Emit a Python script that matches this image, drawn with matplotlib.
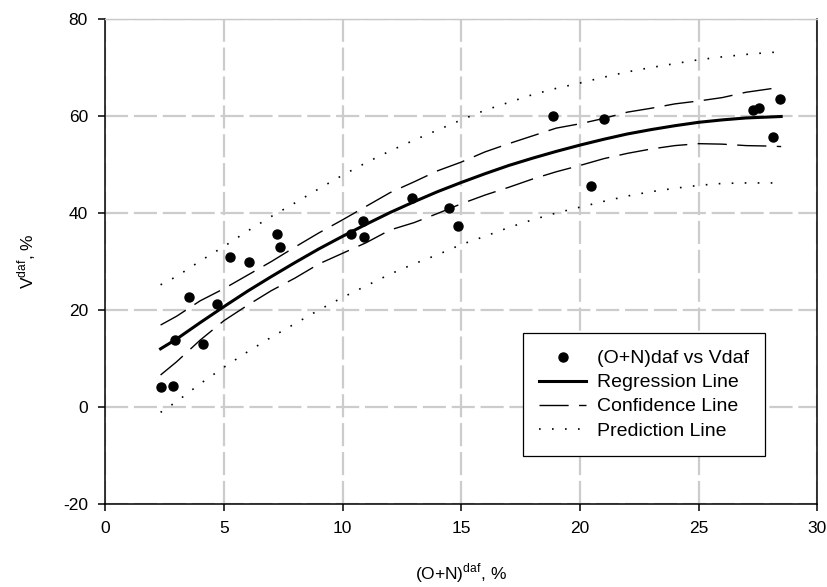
import numpy as np
import matplotlib
matplotlib.use('Agg')
import matplotlib.pyplot as plt

plt.rcParams['font.family'] = ['Liberation Sans', 'DejaVu Sans']
plt.rcParams['axes.unicode_minus'] = False

# measured points: (O+N)daf vs Vdaf
on_daf = [2.33, 2.84, 2.94, 3.54, 4.13, 4.72, 5.25, 6.07, 7.22, 7.36, 10.35, 10.85,
          10.92, 12.94, 14.5, 14.85, 18.85, 20.45, 21.02, 27.3, 27.55, 28.13, 28.43]
v_daf = [4.2, 4.3, 13.8, 22.6, 13.0, 21.2, 30.9, 29.9, 35.7, 32.9, 35.6, 38.4,
         35.1, 43.0, 41.0, 37.3, 59.9, 45.6, 59.4, 61.2, 61.6, 55.7, 63.6]

# curves
curve_x = [2.33, 3, 4, 5, 6, 7, 8, 9, 10, 11, 12, 13, 14, 15, 16, 17, 18, 19, 20,
           21, 22, 23, 24, 25, 26, 27, 28, 28.48]
reg_y = [12.0, 14.0, 17.4, 20.7, 23.9, 26.9, 29.8, 32.6, 35.2, 37.7, 40.1, 42.3, 44.4,
         46.3, 48.1, 49.8, 51.3, 52.7, 54.0, 55.2, 56.3, 57.2, 58.0, 58.7, 59.2, 59.6,
         59.8, 59.9]
conf_up = [16.9, 18.7, 21.9, 24.4, 27.2, 30.0, 33.0, 35.9, 38.6, 41.4, 44.2, 46.4, 48.7,
           50.5, 52.6, 54.3, 55.9, 57.5, 58.4, 59.5, 60.8, 61.6, 62.5, 63.1, 63.8, 64.9,
           65.6, 66.0]
conf_lo = [6.6, 9.3, 13.8, 17.8, 21.0, 24.0, 26.6, 29.5, 31.7, 33.9, 36.5, 38.0, 39.9,
           41.9, 43.7, 45.3, 47.0, 48.5, 49.8, 51.2, 52.3, 53.2, 53.9, 54.3, 54.2, 53.9,
           53.8, 53.7]
pred_up = [25.2, 26.9, 30.1, 33.1, 36.3, 39.3, 42.1, 45.0, 47.8, 50.4, 52.8, 55.0, 57.1,
           59.2, 61.2, 62.8, 64.4, 65.7, 66.8, 68.0, 69.1, 70.0, 70.8, 71.6, 72.2, 72.7,
           73.1, 73.2]
pred_lo = [-1.1, 1.1, 4.8, 8.2, 11.4, 14.4, 17.2, 20.0, 22.6, 25.0, 27.4, 29.5, 31.4,
           33.5, 35.2, 37.0, 38.6, 40.0, 41.2, 42.4, 43.5, 44.4, 45.1, 45.7, 46.1, 46.2,
           46.2, 46.2]

fig = plt.figure(figsize=(8.27, 5.87), dpi=100)
ax = fig.add_axes([0.1273, 0.1414, 0.8609, 0.8262])

ax.grid(True, color='#cccccc', linestyle=(0, (10.4, 2.6)), linewidth=1.6, zorder=0)
ax.set_axisbelow(True)

ax.plot(on_daf, v_daf, 'o', color='black', markersize=6.5, label='(O+N)daf vs Vdaf', zorder=5)
ax.plot(curve_x, reg_y, '-', color='black', linewidth=2.2, label='Regression Line', zorder=4)
ax.plot(curve_x, conf_up, color='black', linewidth=1.0, linestyle=(0, (21, 7.5)),
        label='Confidence Line', zorder=3)
ax.plot(curve_x, conf_lo, color='black', linewidth=1.0, linestyle=(0, (21, 7.5)), zorder=3)
ax.plot(curve_x, pred_up, color='black', linewidth=1.2, linestyle=(0, (1, 6.8)),
        label='Prediction Line', zorder=3)
ax.plot(curve_x, pred_lo, color='black', linewidth=1.2, linestyle=(0, (1, 6.8)), zorder=3)

ax.set_xlim(0, 30)
ax.set_ylim(-20, 80)
ax.set_xticks([0, 5, 10, 15, 20, 25, 30])
ax.set_yticks([-20, 0, 20, 40, 60, 80])
ax.tick_params(direction='out', length=5, width=1.1, labelsize=12.5, pad=7.5,
               top=False, right=False)

for s in ['left', 'bottom', 'right']:
    ax.spines[s].set_color('black')
    ax.spines[s].set_linewidth(1.1)
ax.spines['top'].set_color('#c8c8c8')
ax.spines['top'].set_linewidth(1.0)

ax.set_xlabel(r'(O+N)$^{\mathregular{daf}}$, %', fontsize=12.5)
ax.set_ylabel(r'V$^{\mathregular{daf}}$, %', fontsize=12.5)
ax.xaxis.set_label_coords(0.5, -0.118)
ax.yaxis.set_label_coords(-0.0945, 0.5)

leg = ax.legend(loc='upper left', bbox_to_anchor=(522.7 / 827, 1 - 333.3 / 587),
                bbox_transform=fig.transFigure, fontsize=14, frameon=True,
                fancybox=False, shadow=False, framealpha=1, edgecolor='black',
                borderpad=0.85, labelspacing=0.33, handlelength=2.4, handletextpad=0.55,
                borderaxespad=0, numpoints=1)
leg.get_frame().set_linewidth(0.9)

fig.savefig('out.png', dpi=100)
